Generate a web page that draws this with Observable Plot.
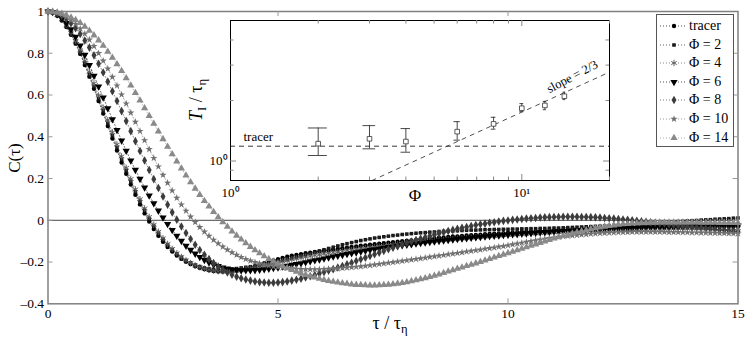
<!DOCTYPE html>
<html><head><meta charset="utf-8">
<script src="https://cdn.jsdelivr.net/npm/d3@7"></script>
<script src="https://cdn.jsdelivr.net/npm/@observablehq/plot@0.6"></script>
<style>
body{margin:0;background:#fff;}
#wrap{position:relative;width:747px;height:346px;overflow:hidden;background:#fff;font-family:"Liberation Serif",serif;}
#wrap svg{position:absolute;}
.lab{position:absolute;font-family:"Liberation Serif",serif;color:#000;white-space:nowrap;line-height:1;}
.lab sub{font-size:0.7em;vertical-align:-0.35em;}
#legend{position:absolute;left:656px;top:14px;width:76px;height:131px;border:1px solid #555;background:#fff;font-family:"Liberation Serif",serif;font-size:14px;}
#legend .row{position:absolute;left:0;height:18px;display:flex;align-items:center;}
#legend svg{position:static;}
</style></head><body><div id="wrap"></div>
<script>
// ---- data: C(tau) sampled every 0.1 tau_eta from 0 to 15 ----
const tau = d3.range(151).map(i => i / 10);
const tracer = [1.000,0.995,0.980,0.957,0.926,0.889,0.846,0.797,0.744,0.688,0.630,
0.571,0.511,0.451,0.392,0.334,0.277,0.223,0.171,0.122,0.076,
0.033,-0.006,-0.042,-0.074,-0.103,-0.128,-0.150,-0.169,-0.185,-0.199,
-0.210,-0.220,-0.228,-0.234,-0.239,-0.243,-0.245,-0.246,-0.246,-0.244,
-0.241,-0.237,-0.232,-0.226,-0.220,-0.213,-0.206,-0.199,-0.192,-0.186,
-0.180,-0.175,-0.170,-0.166,-0.162,-0.158,-0.155,-0.152,-0.149,-0.146,
-0.143,-0.140,-0.137,-0.134,-0.131,-0.128,-0.125,-0.122,-0.120,-0.117,
-0.115,-0.112,-0.110,-0.107,-0.105,-0.103,-0.100,-0.098,-0.096,-0.094,
-0.092,-0.090,-0.088,-0.086,-0.084,-0.082,-0.080,-0.078,-0.077,-0.075,
-0.073,-0.072,-0.070,-0.069,-0.067,-0.066,-0.064,-0.063,-0.062,-0.060,
-0.059,-0.058,-0.056,-0.055,-0.054,-0.053,-0.052,-0.051,-0.050,-0.049,
-0.048,-0.047,-0.046,-0.045,-0.044,-0.043,-0.043,-0.042,-0.041,-0.040,
-0.040,-0.039,-0.039,-0.038,-0.038,-0.037,-0.037,-0.036,-0.036,-0.035,
-0.035,-0.035,-0.034,-0.034,-0.034,-0.033,-0.033,-0.033,-0.032,-0.032,
-0.032,-0.032,-0.031,-0.031,-0.031,-0.031,-0.030,-0.030,-0.030,-0.030];
const phi2 = [1.000,0.996,0.982,0.960,0.930,0.894,0.852,0.805,0.753,0.698,0.641,
0.583,0.524,0.465,0.406,0.348,0.292,0.238,0.186,0.137,0.091,
0.048,0.008,-0.028,-0.061,-0.091,-0.117,-0.140,-0.160,-0.177,-0.192,
-0.204,-0.214,-0.222,-0.228,-0.232,-0.235,-0.236,-0.236,-0.235,-0.233,
-0.231,-0.228,-0.225,-0.222,-0.219,-0.215,-0.211,-0.207,-0.203,-0.198,
-0.193,-0.188,-0.182,-0.177,-0.171,-0.165,-0.159,-0.153,-0.147,-0.141,
-0.135,-0.129,-0.123,-0.117,-0.112,-0.107,-0.102,-0.097,-0.093,-0.089,
-0.085,-0.082,-0.079,-0.076,-0.073,-0.071,-0.068,-0.066,-0.064,-0.062,
-0.060,-0.059,-0.057,-0.056,-0.054,-0.053,-0.052,-0.051,-0.050,-0.049,
-0.048,-0.047,-0.047,-0.046,-0.045,-0.045,-0.044,-0.044,-0.043,-0.043,
-0.042,-0.042,-0.041,-0.041,-0.040,-0.040,-0.039,-0.039,-0.038,-0.037,
-0.037,-0.036,-0.035,-0.034,-0.033,-0.032,-0.031,-0.030,-0.029,-0.028,
-0.027,-0.026,-0.025,-0.023,-0.022,-0.021,-0.019,-0.018,-0.017,-0.015,
-0.014,-0.013,-0.011,-0.010,-0.009,-0.007,-0.006,-0.005,-0.003,-0.002,
-0.001,0.001,0.002,0.003,0.005,0.006,0.007,0.008,0.010,0.011];
const phi4 = [1.000,0.996,0.983,0.962,0.934,0.899,0.859,0.814,0.764,0.711,0.655,
0.598,0.539,0.480,0.421,0.363,0.306,0.251,0.198,0.148,0.101,
0.057,0.016,-0.021,-0.055,-0.086,-0.113,-0.137,-0.158,-0.176,-0.192,
-0.205,-0.216,-0.225,-0.232,-0.237,-0.241,-0.244,-0.245,-0.246,-0.245,
-0.243,-0.240,-0.236,-0.232,-0.227,-0.222,-0.217,-0.212,-0.207,-0.202,
-0.197,-0.193,-0.188,-0.184,-0.180,-0.176,-0.172,-0.168,-0.165,-0.161,
-0.158,-0.155,-0.152,-0.149,-0.146,-0.143,-0.140,-0.137,-0.134,-0.131,
-0.129,-0.126,-0.124,-0.121,-0.119,-0.116,-0.114,-0.112,-0.109,-0.107,
-0.105,-0.103,-0.101,-0.099,-0.097,-0.095,-0.093,-0.091,-0.089,-0.087,
-0.085,-0.083,-0.082,-0.080,-0.078,-0.077,-0.075,-0.074,-0.072,-0.071,
-0.069,-0.068,-0.067,-0.065,-0.064,-0.063,-0.062,-0.060,-0.059,-0.058,
-0.057,-0.056,-0.055,-0.054,-0.053,-0.052,-0.051,-0.050,-0.049,-0.048,
-0.048,-0.047,-0.046,-0.046,-0.045,-0.045,-0.044,-0.044,-0.043,-0.043,
-0.042,-0.042,-0.042,-0.041,-0.041,-0.041,-0.040,-0.040,-0.040,-0.040,
-0.039,-0.039,-0.039,-0.039,-0.039,-0.038,-0.038,-0.038,-0.038,-0.038];
const phi6 = [1.000,0.997,0.986,0.968,0.944,0.914,0.878,0.837,0.792,0.743,0.692,
0.640,0.588,0.536,0.484,0.432,0.382,0.333,0.286,0.241,0.198,
0.157,0.118,0.081,0.046,0.013,-0.018,-0.047,-0.074,-0.099,-0.122,
-0.142,-0.160,-0.176,-0.190,-0.202,-0.212,-0.220,-0.227,-0.232,-0.236,
-0.238,-0.240,-0.240,-0.240,-0.239,-0.237,-0.235,-0.232,-0.229,-0.226,
-0.222,-0.218,-0.214,-0.210,-0.206,-0.201,-0.197,-0.192,-0.188,-0.183,
-0.179,-0.174,-0.170,-0.166,-0.162,-0.158,-0.154,-0.150,-0.146,-0.142,
-0.139,-0.136,-0.132,-0.129,-0.126,-0.123,-0.120,-0.117,-0.115,-0.112,
-0.109,-0.107,-0.104,-0.102,-0.099,-0.097,-0.095,-0.092,-0.090,-0.088,
-0.086,-0.084,-0.082,-0.080,-0.078,-0.076,-0.074,-0.073,-0.071,-0.069,
-0.067,-0.066,-0.064,-0.063,-0.061,-0.060,-0.058,-0.057,-0.056,-0.054,
-0.053,-0.052,-0.051,-0.050,-0.048,-0.047,-0.046,-0.045,-0.044,-0.043,
-0.042,-0.041,-0.040,-0.039,-0.038,-0.038,-0.037,-0.036,-0.035,-0.034,
-0.034,-0.033,-0.032,-0.032,-0.031,-0.031,-0.030,-0.030,-0.029,-0.029,
-0.028,-0.028,-0.028,-0.027,-0.027,-0.027,-0.026,-0.026,-0.026,-0.026];
const phi8 = [1.000,0.998,0.991,0.980,0.964,0.944,0.920,0.892,0.861,0.827,0.790,
0.750,0.708,0.664,0.618,0.571,0.523,0.475,0.427,0.379,0.332,
0.286,0.241,0.197,0.155,0.114,0.075,0.038,0.003,-0.030,-0.061,
-0.090,-0.117,-0.142,-0.165,-0.186,-0.205,-0.222,-0.237,-0.250,-0.261,
-0.270,-0.278,-0.284,-0.289,-0.293,-0.296,-0.298,-0.299,-0.299,-0.298,
-0.296,-0.293,-0.289,-0.285,-0.280,-0.274,-0.268,-0.262,-0.255,-0.248,
-0.241,-0.234,-0.226,-0.219,-0.211,-0.203,-0.195,-0.187,-0.179,-0.171,
-0.163,-0.155,-0.147,-0.139,-0.131,-0.124,-0.116,-0.109,-0.102,-0.095,
-0.088,-0.081,-0.075,-0.069,-0.063,-0.057,-0.051,-0.046,-0.041,-0.036,
-0.032,-0.027,-0.023,-0.019,-0.016,-0.012,-0.009,-0.006,-0.003,-0.001,
0.002,0.004,0.006,0.008,0.010,0.011,0.013,0.014,0.015,0.016,
0.016,0.017,0.017,0.017,0.017,0.016,0.016,0.015,0.014,0.013,
0.011,0.010,0.008,0.006,0.004,0.002,0.000,-0.002,-0.005,-0.007,
-0.010,-0.012,-0.015,-0.017,-0.020,-0.022,-0.025,-0.027,-0.030,-0.032,
-0.035,-0.037,-0.040,-0.042,-0.044,-0.046,-0.048,-0.050,-0.052,-0.054];
const phi10 = [1.000,0.998,0.993,0.985,0.973,0.958,0.940,0.918,0.893,0.865,0.834,
0.800,0.764,0.726,0.686,0.645,0.602,0.559,0.515,0.471,0.427,
0.383,0.340,0.298,0.257,0.217,0.179,0.142,0.107,0.075,0.045,
0.017,-0.009,-0.033,-0.055,-0.075,-0.094,-0.111,-0.127,-0.141,-0.154,
-0.166,-0.177,-0.186,-0.194,-0.201,-0.207,-0.212,-0.217,-0.221,-0.224,
-0.227,-0.229,-0.231,-0.233,-0.234,-0.235,-0.235,-0.235,-0.235,-0.234,
-0.233,-0.232,-0.231,-0.229,-0.227,-0.225,-0.223,-0.221,-0.219,-0.216,
-0.213,-0.210,-0.207,-0.204,-0.201,-0.198,-0.195,-0.192,-0.189,-0.186,
-0.183,-0.180,-0.176,-0.173,-0.170,-0.167,-0.163,-0.160,-0.157,-0.154,
-0.150,-0.147,-0.144,-0.141,-0.137,-0.134,-0.131,-0.127,-0.124,-0.120,
-0.116,-0.112,-0.108,-0.104,-0.100,-0.096,-0.093,-0.089,-0.086,-0.083,
-0.080,-0.077,-0.075,-0.073,-0.071,-0.069,-0.067,-0.065,-0.064,-0.062,
-0.061,-0.060,-0.059,-0.058,-0.057,-0.057,-0.056,-0.056,-0.056,-0.056,
-0.056,-0.056,-0.056,-0.056,-0.057,-0.057,-0.057,-0.058,-0.058,-0.059,
-0.059,-0.060,-0.060,-0.061,-0.061,-0.062,-0.062,-0.063,-0.063,-0.064];
const phi14 = [1.000,0.999,0.996,0.990,0.982,0.972,0.960,0.945,0.928,0.908,0.886,
0.862,0.836,0.808,0.779,0.748,0.715,0.681,0.646,0.610,0.574,
0.537,0.500,0.463,0.426,0.389,0.353,0.317,0.282,0.248,0.215,
0.183,0.152,0.122,0.093,0.066,0.040,0.015,-0.009,-0.031,-0.053,
-0.073,-0.092,-0.110,-0.127,-0.143,-0.158,-0.172,-0.185,-0.197,-0.208,
-0.219,-0.229,-0.238,-0.246,-0.254,-0.261,-0.268,-0.274,-0.280,-0.285,
-0.290,-0.294,-0.298,-0.301,-0.304,-0.307,-0.309,-0.310,-0.311,-0.312,
-0.312,-0.311,-0.310,-0.308,-0.306,-0.303,-0.300,-0.296,-0.292,-0.287,
-0.282,-0.277,-0.271,-0.265,-0.259,-0.252,-0.245,-0.239,-0.232,-0.226,
-0.219,-0.213,-0.206,-0.199,-0.192,-0.185,-0.178,-0.171,-0.164,-0.157,
-0.150,-0.143,-0.136,-0.129,-0.122,-0.115,-0.108,-0.101,-0.094,-0.087,
-0.081,-0.075,-0.069,-0.063,-0.057,-0.052,-0.047,-0.042,-0.038,-0.034,
-0.030,-0.027,-0.024,-0.021,-0.019,-0.017,-0.015,-0.014,-0.013,-0.012,
-0.011,-0.011,-0.010,-0.010,-0.010,-0.010,-0.010,-0.010,-0.010,-0.010,
-0.010,-0.011,-0.011,-0.011,-0.011,-0.012,-0.012,-0.012,-0.013,-0.013];
const seriesNames = ["tracer", "Φ = 2", "Φ = 4", "Φ = 6", "Φ = 8", "Φ = 10", "Φ = 14"];
const seriesValues = [tracer, phi2, phi4, phi6, phi8, phi10, phi14];
const xTicks = [0, 5, 10, 15];
const yTicks = [-0.4, -0.2, 0, 0.2, 0.4, 0.6, 0.8, 1];

// ---- inset data: T_I / tau_eta vs Phi ----
const insetPhi = [2, 3, 4, 6, 8, 10, 12, 14];
const insetT   = [1.22, 1.29, 1.25, 1.40, 1.53, 1.83, 1.89, 2.10];
const insetLo  = [1.065, 1.15, 1.106, 1.27, 1.44, 1.76, 1.80, 2.02];
const insetHi  = [1.46, 1.50, 1.45, 1.57, 1.65, 1.93, 1.98, 2.20];
const tracerLevel = 1.185;
const slopePhi = [3.06, 20];
const slopeT = [0.8, 2.77];
const insetXTicks = [1, 10];
const insetYTicks = [1];
const insetXMinor = [2, 3, 4, 5, 6, 7, 8, 9, 20];
const insetYMinor = [0.9, 2, 3, 4];

// ---- styles ----
const downTriangle = {draw(ctx, size) {
  const y = Math.sqrt(size / (Math.sqrt(3) * 3));
  ctx.moveTo(0, 2 * y); ctx.lineTo(Math.sqrt(3) * y, -y); ctx.lineTo(-Math.sqrt(3) * y, -y); ctx.closePath();
}};
const styles = [
  {sym: d3.symbolCircle, r: 2.2, color: "#000", fill: true},
  {sym: d3.symbolSquare, r: 2.0, color: "#1a1a1a", fill: true},
  {sym: d3.symbolAsterisk, r: 3.0, color: "#555", fill: false},
  {sym: downTriangle, r: 2.7, color: "#000", fill: true},
  {sym: d3.symbolDiamond, r: 2.6, color: "#3c3c3c", fill: true},
  {sym: d3.symbolStar, r: 2.3, color: "#707070", fill: true},
  {sym: d3.symbolTriangle, r: 2.7, color: "#8a8a8a", fill: true}
];

const wrap = document.getElementById("wrap");
const FONT = "'Liberation Serif', serif";

// ---- main plot ----
const W = 747, H = 346, mL = 47.5, mR = 9.5, mT = 11, mB = 42.7;
const pw = W - mL - mR, ph = H - mT - mB;
const marks = [Plot.ruleY([0], {stroke: "#444", strokeWidth: 1})];
seriesValues.forEach((vals, k) => {
  const st = styles[k];
  const data = vals.map((c, i) => ({tau: tau[i], c}));
  marks.push(Plot.line(data, {x: "tau", y: "c", stroke: st.color, strokeWidth: 0.6, strokeDasharray: "1,2"}));
  marks.push(Plot.dot(data, {x: "tau", y: "c", symbol: st.sym, r: st.r,
    fill: st.fill ? st.color : "none", stroke: st.fill ? "none" : st.color, strokeWidth: st.fill ? 0 : 0.9}));
});
const fmt = d => d === 0 ? "0" : (d < 0 ? "–" + Math.abs(d) : String(d));
marks.push(
  Plot.frame({stroke: "#808080", strokeWidth: 1.5}),
  Plot.tickX([5, 10], {x: d => d, stroke: "#999", insetTop: ph - 5}),
  Plot.tickX([5, 10], {x: d => d, stroke: "#999", insetBottom: ph - 5}),
  Plot.tickY(yTicks.slice(1, -1), {y: d => d, stroke: "#999", insetRight: pw - 5}),
  Plot.tickY(yTicks.slice(1, -1), {y: d => d, stroke: "#999", insetLeft: pw - 5}),
  Plot.axisX(xTicks, {tickSize: 0, tickPadding: 5, tickFormat: d => String(d), label: null, fontFamily: FONT}),
  Plot.axisY(yTicks, {tickSize: 0, tickPadding: 4, tickFormat: fmt, label: null, fontFamily: FONT})
);
const main = Plot.plot({
  width: W, height: H, marginLeft: mL, marginRight: mR, marginTop: mT, marginBottom: mB,
  x: {domain: [0, 15]}, y: {domain: [-0.4, 1]},
  style: {fontFamily: FONT, fontSize: "13.5px", background: "transparent", color: "#000"},
  marks
});
main.style.left = "0px"; main.style.top = "0px";
wrap.appendChild(main);

// ---- inset ----
const iW = 411, iH = 186, iL = 30, iR = 2, iT = 2, iB = 24;
const ipw = iW - iL - iR, iph = iH - iT - iB;
const rows = insetPhi.map((p, i) => ({phi: p, t: insetT[i], lo: insetLo[i], hi: insetHi[i]}));
const capHalf = 0.15;
const inset = Plot.plot({
  width: iW, height: iH, marginLeft: iL, marginRight: iR, marginTop: iT, marginBottom: iB,
  x: {type: "log", domain: [1, 20]}, y: {type: "log", domain: [0.8, 5]},
  style: {fontFamily: FONT, fontSize: "13px", background: "transparent", color: "#000"},
  marks: [
    Plot.frame({fill: "white", stroke: null}),
    Plot.ruleY([tracerLevel], {stroke: "#222", strokeWidth: 0.9, strokeDasharray: "5,4"}),
    Plot.line(slopePhi.map((p, i) => ({p, t: slopeT[i]})), {x: "p", y: "t", stroke: "#222", strokeWidth: 0.8, strokeDasharray: "4,5"}),
    Plot.ruleX(rows, {x: "phi", y1: "lo", y2: "hi", stroke: "#333", strokeWidth: 0.9}),
    Plot.ruleY(rows, {y: "lo", x1: d => d.phi - capHalf, x2: d => d.phi + capHalf, stroke: "#333", strokeWidth: 0.9}),
    Plot.ruleY(rows, {y: "hi", x1: d => d.phi - capHalf, x2: d => d.phi + capHalf, stroke: "#333", strokeWidth: 0.9}),
    Plot.dot(rows, {x: "phi", y: "t", symbol: "square", r: 2.6, fill: "white", stroke: "#333", strokeWidth: 0.8}),
    Plot.text([{x: 1.108, y: tracerLevel}], {x: "x", y: "y", text: () => "tracer", textAnchor: "start", dy: -9, fontSize: 13, fontFamily: FONT}),
    Plot.text([{x: 14.9, y: 2.63}], {x: "x", y: "y", text: () => "slope = 2/3", rotate: -28, fontSize: 12.5, fontFamily: FONT}),
    Plot.frame({stroke: "#000", strokeWidth: 1}),
    Plot.tickX(insetXMinor, {x: d => d, stroke: "#888", insetBottom: iph - 3.5}),
    Plot.tickX(insetXMinor, {x: d => d, stroke: "#888", insetTop: iph - 3.5}),
    Plot.tickX([10], {x: d => d, stroke: "#888", insetBottom: iph - 6}),
    Plot.tickX([10], {x: d => d, stroke: "#888", insetTop: iph - 6}),
    Plot.tickY(insetYMinor, {y: d => d, stroke: "#888", insetRight: ipw - 3.5}),
    Plot.tickY(insetYMinor, {y: d => d, stroke: "#888", insetLeft: ipw - 3.5}),
    Plot.tickY(insetYTicks, {y: d => d, stroke: "#888", insetRight: ipw - 6}),
    Plot.tickY(insetYTicks, {y: d => d, stroke: "#888", insetLeft: ipw - 6}),
    Plot.axisX(insetXTicks, {tickSize: 0, tickPadding: 7, tickFormat: d => d === 1 ? "10⁰" : "10¹", label: null, fontFamily: FONT}),
    Plot.axisY(insetYTicks, {tickSize: 0, tickPadding: 3, tickFormat: () => "10⁰", label: null, fontFamily: FONT})
  ]
});
inset.style.left = (230 - iL) + "px"; inset.style.top = (20 - iT) + "px";
wrap.appendChild(inset);

// ---- legend ----
const leg = document.createElement("div"); leg.id = "legend";
seriesNames.forEach((name, k) => {
  const st = styles[k];
  const row = document.createElement("div"); row.className = "row";
  row.style.top = (2 + k * 18.6) + "px";
  const path = d3.symbol().type(st.sym).size(Math.PI * st.r * st.r)();
  row.innerHTML = `<svg width="32" height="18"><line x1="3" x2="30" y1="9" y2="9" stroke="${st.color}" stroke-width="0.7" stroke-dasharray="1,2"/>` +
    `<path transform="translate(17,9)" d="${path}" fill="${st.fill ? st.color : "none"}" stroke="${st.fill ? "none" : st.color}" stroke-width="0.9"/></svg>` +
    `<span>${name}</span>`;
  leg.appendChild(row);
});
wrap.appendChild(leg);

// ---- axis labels ----
function label(html, cx, cy, size, rot) {
  const d = document.createElement("div"); d.className = "lab"; d.innerHTML = html;
  d.style.left = cx + "px"; d.style.top = cy + "px"; d.style.fontSize = size + "px";
  d.style.transform = `translate(-50%,-50%) rotate(${rot}deg)`;
  wrap.appendChild(d);
}
label("C(τ)", 14, 158, 17, -90);
label("τ / τ<sub>η</sub>", 390, 325, 18, 0);
label("Φ", 415, 195, 17, 0);
label("<i>T</i><sub>I</sub> / τ<sub>η</sub>", 198, 100, 18, -90);
</script></body></html>
